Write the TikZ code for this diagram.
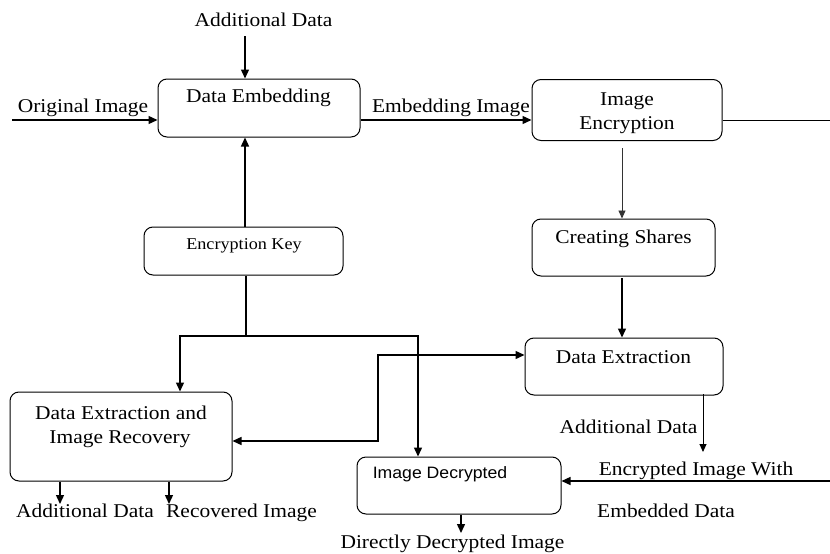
\documentclass[tikz,border=0pt]{standalone}
\usepackage{fontspec}
\setmainfont{Liberation Serif}[FakeStretch=1.1]
\newfontfamily\sansf{Liberation Sans}[FakeStretch=1.07]
\usetikzlibrary{arrows.meta}
\begin{document}
\begin{tikzpicture}[x=1pt,y=-1pt,
  box/.style={draw, rounded corners=9pt, line width=1pt, inner sep=0pt},
  lbl/.style={anchor=base, inner sep=0pt, font=\fontsize{19.5}{23}\selectfont},
  smalllbl/.style={anchor=base, inner sep=0pt, font=\fontsize{16.5}{20}\selectfont},
  sanslbl/.style={anchor=base, inner sep=0pt, font=\sansf\fontsize{16.5}{20}\selectfont},
  arrthick/.style={line width=1.4pt, -{Triangle[length=9pt,width=8pt]}},
  arrthin/.style={line width=0.9pt, -{Triangle[length=8pt,width=7pt]}},
  plainthick/.style={line width=1.4pt},
  boththick/.style={line width=1.4pt, {Triangle[length=9pt,width=8pt]}-{Triangle[length=9pt,width=8pt]}}
]
\useasboundingbox (0,0) rectangle (830,554);

% boxes
\node[box, minimum width=202pt, minimum height=58pt] (de) at (259,108) {};
\node[box, minimum width=190pt, minimum height=61pt] (ie) at (627,110) {};
\node[box, minimum width=183pt, minimum height=57pt] (cs) at (623.5,247.5) {};
\node[box, minimum width=198pt, minimum height=57pt] (dex) at (624,366.5) {};
\node[box, minimum width=199pt, minimum height=48pt] (ek) at (243.5,251) {};
\node[box, minimum width=222pt, minimum height=89pt] (der) at (121,436.5) {};
\node[box, minimum width=204pt, minimum height=57pt] (id) at (459,485.5) {};

% texts
\node[lbl] (adtop) at (263.5,26) {Additional Data};
\node[lbl] (oi) at (83,112) {Original Image};
\node[lbl] (deT) at (258.5,102) {Data Embedding};
\node[lbl] (ei) at (451,112) {Embedding Image};
\node[lbl] (ieA) at (627,105) {Image};
\node[lbl] (ieB) at (627,129) {Encryption};
\node[lbl] (csT) at (623.5,243) {Creating Shares};
\node[lbl] (dexT) at (623.5,363) {Data Extraction};
\node[smalllbl] (ekT) at (244,249) {Encryption Key};
\node[lbl] (derA) at (121,419) {Data Extraction and};
\node[lbl] (derB) at (120,443) {Image Recovery};
\node[lbl] (adbot) at (85,517) {Additional Data};
\node[lbl] (ri) at (241.5,517) {Recovered Image};
\node[sanslbl] (idT) at (440,478) {Image Decrypted};
\node[lbl] (ddi) at (452.5,548) {Directly Decrypted Image};
\node[lbl] (adright) at (628.5,433) {Additional Data};
\node[lbl] (eiw) at (696,475) {Encrypted Image With};
\node[lbl] (ed) at (666,517) {Embedded Data};

% coordinates
\coordinate (oiS) at (12,120);
\coordinate (ieR) at (830,120);
\coordinate (adS) at (245,36);
\coordinate (c1) at (622,148);
\coordinate (c2) at (622,278);
\coordinate (j) at (246,336);
\coordinate (jl) at (180,336);
\coordinate (jr) at (418,336);
\coordinate (k1) at (378,355);
\coordinate (k2) at (378,441);
\coordinate (m1) at (703,394);
\coordinate (m2) at (703,452);
\coordinate (r) at (830,481);
\coordinate (b1) at (60,504);
\coordinate (b2) at (169,504);
\coordinate (b3) at (461,533);

% connectors
\draw[arrthick] (oiS) -- (oiS -| de.west);
\draw[arrthick] (de.east |- oiS) -- (ie.west |- oiS);
\draw[plainthick, line width=1pt] (ie.east |- ieR) -- (ieR);
\draw[arrthick] (adS) -- (adS |- de.north);
\draw[arrthin, black!80] (c1) -- (c1 |- cs.north);
\draw[arrthick] (c2) -- (c2 |- dex.north);
\draw[arrthick] (ek.north -| adS) -- (de.south -| adS);
\draw[plainthick] (ek.south -| j) -- (j);
\draw[arrthick] (j) -- (jl) -- (jl |- der.north);
\draw[arrthick] (j) -- (jr) -- (jr |- id.north);
\draw[boththick] (der.east |- k2) -- (k2) -- (k1) -- (dex.west |- k1);
\draw[arrthin] (m1) -- (m2);
\draw[arrthick] (r) -- (r -| id.east);
\draw[arrthick] (b1 |- der.south) -- (b1);
\draw[arrthick] (b2 |- der.south) -- (b2);
\draw[arrthick] (b3 |- id.south) -- (b3);
\end{tikzpicture}
\end{document}
